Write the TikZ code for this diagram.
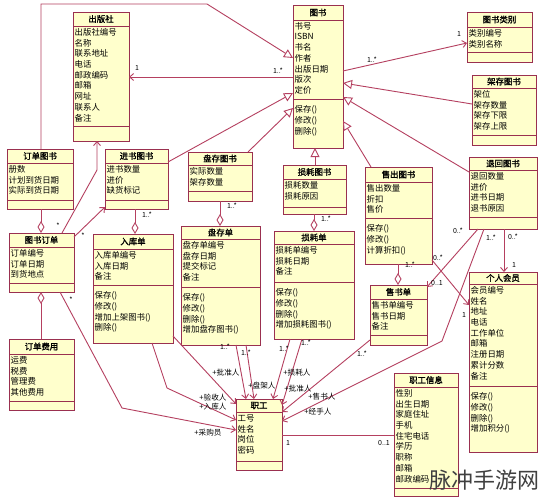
\documentclass[tikz,border=0pt]{standalone}
\usepackage{fontspec}
\setmainfont{Noto Sans CJK SC}[AutoFakeBold=1.5]
\usetikzlibrary{arrows.meta,calc}
\definecolor{boxc}{HTML}{9A3050}
\definecolor{linec}{HTML}{B54060}
\definecolor{fillc}{HTML}{FFFFCC}
\tikzset{
 classbox/.style={draw=boxc, fill=fillc, line width=0.9pt, rectangle, inner sep=0pt, outer sep=0pt},
 boxline/.style={draw=boxc, line width=0.9pt},
 titletext/.style={font=\fontsize{8.4}{10}\selectfont\bfseries, inner sep=0pt},
 attrtext/.style={font=\fontsize{8.4}{10}\selectfont, inner sep=0pt, anchor=west},
 conn/.style={draw=linec, line width=0.9pt},
 assoc/.style={conn, -{Straight Barb[length=4pt,width=7pt]}},
 gen/.style={conn, -{Triangle[length=9pt,width=9pt,fill=white]}},
 aggend/.style={conn, -{Diamond[length=12pt,width=7pt,fill=white]}},
 aggstart/.style={conn, {Diamond[length=12pt,width=7pt,fill=white]}-},
 mult/.style={font=\fontsize{7}{8}\selectfont, inner sep=0pt},
 role/.style={font=\fontsize{7.6}{9}\selectfont, inner sep=0pt},
}
\newcommand{\umlbox}[9]{%
  \pgfmathsetmacro{\myBW}{#4-#2}%
  \pgfmathsetmacro{\myBH}{#5-#3}%
  \node[classbox,minimum width=\myBW pt,minimum height=\myBH pt,anchor=north west] (#1) at (#2,#3) {};
  \draw[boxline] (#2,#6) -- (#4,#6) (#2,#7) -- (#4,#7);
  \node[titletext] (#1t) at ({(#2+#4)/2},{(#3+#6)/2}) {#8};
  \foreach \itm [count=\k from 0] in {#9} {\node[attrtext] (#1a\k) at ({#2+1.5},{#6+6.2+10.7*\k}) {\itm};}%
}
\newcommand{\umlops}[4]{%
  \foreach \itm [count=\k from 0] in {#4} {\node[attrtext] (#1o\k) at ({#2+1.5},{#3+11+10.7*\k}) {\itm};}%
}
\begin{document}
\begin{tikzpicture}[x=1pt,y=-1pt]
\fill[white] (0,0) rectangle (548,500);
\useasboundingbox (0,0) rectangle (548,500);

\umlbox{pub}{73}{12}{129}{141}{26}{126}{出版社}{出版社编号,名称,联系地址,电话,邮政编码,邮箱,网址,联系人,备注}
\umlbox{book}{293}{5}{343}{148}{20}{99}{图书}{书号,ISBN,书名,作者,出版日期,版次,定价}
\umlops{book}{293}{99}{保存(),修改(),删除()}
\umlbox{cat}{467}{12}{532}{62}{27}{52}{图书类别}{类别编号,类别名称}
\umlbox{shelf}{472}{75}{536}{145}{88}{135}{架存图书}{架位,架存数量,架存下限,架存上限}
\umlbox{ordbook}{7}{149}{73}{209}{163}{200}{订单图书}{册数,计划到货日期,实际到货日期}
\umlbox{inbook}{105}{149}{168}{209}{163}{200}{进书图书}{进书数量,进价,缺货标记}
\umlbox{invbook}{188}{152}{252}{201}{165}{191}{盘存图书}{实际数量,架存数量}
\umlbox{lossbook}{283}{165}{346}{214}{179}{207}{损耗图书}{损耗数量,损耗原因}
\umlbox{soldbook}{365}{167}{432}{264}{182}{218}{售出图书}{售出数量,折扣,售价}
\umlops{soldbook}{365}{218}{保存(),修改(),计算折扣()}
\umlbox{retbook}{469}{157}{537}{229}{170}{217}{退回图书}{退回数量,进价,进书日期,退书原因}
\umlbox{order}{9}{233}{74}{292}{247}{283}{图书订单}{订单编号,订单日期,到货地点}
\umlbox{instock}{93}{234}{173}{343}{249}{285}{入库单}{入库单编号,入库日期,备注}
\umlops{instock}{93}{285}{保存(),修改(),增加上架图书(),删除()}
\umlbox{invsheet}{181}{226}{260}{345}{239}{287}{盘存单}{盘存单编号,盘存日期,提交标记,备注}
\umlops{invsheet}{181}{287}{保存(),修改(),删除(),增加盘存图书()}
\umlbox{losssheet}{274}{231}{354}{339}{244}{282}{损耗单}{损耗单编号,损耗日期,备注}
\umlops{losssheet}{274}{282}{保存(),修改(),删除(),增加损耗图书()}
\umlbox{salesheet}{370}{285}{427}{345}{299}{335}{售书单}{售书单编号,售书日期,备注}
\umlbox{member}{469}{272}{537}{452}{284}{386}{个人会员}{会员编号,姓名,地址,电话,工作单位,邮箱,注册日期,累计分数,备注}
\umlops{member}{469}{386}{保存(),修改(),删除(),增加积分()}
\umlbox{fee}{9}{339}{74}{410}{354}{401}{订单费用}{运费,税费,管理费,其他费用}
\umlbox{staff}{236}{399}{282}{470}{412}{461}{职工}{工号,姓名,岗位,密码}
\umlbox{staffinfo}{394}{373}{458}{496}{387}{488}{职工信息}{性别,出生日期,家庭住址,手机,住宅电话,学历,职称,邮箱,邮政编码}

% generalizations
\draw[gen] ($(ordbook.north west)+(34,0)$) -- (41,4) -- (207,4) -- ($(book.north west)+(0,53)$);
\draw[gen] ($(shelf.north west)+(0,29)$) -- ($(book.north west)+(50,78)$);
\draw[gen] ($(retbook.north west)+(0,15)$) -- ($(book.north west)+(50,92)$);
\draw[gen] ($(soldbook.north west)+(6,0)$) -- ($(book.north west)+(50,116)$);
\draw[gen] ($(lossbook.north west)+(32,0)$) -- ($(book.north west)+(22,143)$);
\draw[gen] ($(invbook.north west)+(60,0)$) -- ($(book.north west)+(0,103)$);
\draw[gen] ($(inbook.north west)+(63,13)$) -- ($(book.north west)+(0,88)$);

% associations
\draw[assoc] ($(book.north west)+(0,72)$) -- ($(pub.north west)+(56,65)$);
\draw[assoc] ($(book.north west)+(50,66)$) -- ($(cat.north west)+(0,31)$);
\draw[assoc] ($(order.north west)+(53,0)$) -- (97,170) -- ($(pub.north west)+(24,129)$);
\draw[assoc] ($(order.north west)+(65,4)$) -- ($(inbook.north west)+(0,58)$);
\draw[assoc] ($(order.north west)+(51,59)$) -- (122,408) -- ($(staff.north west)+(0,31)$);
\draw[assoc] ($(instock.north west)+(59,109)$) -- (167,388) -- ($(staff.north west)+(0,21)$);
\draw[assoc] ($(instock.north west)+(80,102)$) -- ($(staff.north west)+(0,5)$);
\draw[assoc] ($(invsheet.north west)+(55,119)$) -- ($(staff.north west)+(10,0)$);
\draw[assoc] ($(invsheet.north west)+(65,119)$) -- ($(staff.north west)+(18,0)$);
\draw[assoc] ($(losssheet.north west)+(16,108)$) -- ($(staff.north west)+(37,0)$);
\draw[assoc] ($(losssheet.north west)+(28,108)$) -- ($(staff.north west)+(46,6)$);
\draw[assoc] ($(salesheet.north west)+(0,55)$) -- ($(staff.north west)+(46,13)$);
\draw[assoc] ($(retbook.north west)+(15,72)$) -- (442,341) -- ($(staff.north west)+(46,22)$);
\draw[assoc] ($(soldbook.north west)+(67,93)$) -- ($(member.north west)+(0,33)$);
\draw[assoc] ($(retbook.north west)+(9,72)$) -- ($(salesheet.north west)+(57,2)$);
\draw[assoc] ($(retbook.north west)+(35,72)$) -- ($(member.north west)+(35,0)$);
\draw[conn] ($(staff.north west)+(46,36)$) -- ($(staffinfo.north west)+(0,62)$);

% aggregations
\draw[aggend] ($(ordbook.north west)+(34,60)$) -- ($(order.north west)+(32,0)$);
\draw[aggend] ($(inbook.north west)+(30,60)$) -- ($(instock.north west)+(42,0)$);
\draw[aggend] ($(invbook.north west)+(32,49)$) -- ($(invsheet.north west)+(39,0)$);
\draw[aggend] ($(lossbook.north west)+(31,49)$) -- ($(losssheet.north west)+(40,0)$);
\draw[aggend] ($(soldbook.north west)+(33,97)$) -- ($(salesheet.north west)+(28,0)$);
\draw[aggstart] ($(order.north west)+(32,59)$) -- ($(fee.north west)+(32,0)$);

% multiplicities
\node[mult] (m1) at (137,68) {1};
\node[mult] (m2) at (278,71) {1..*};
\node[mult] (m3) at (372,60) {1..*};
\node[mult] (m4) at (459,34) {1};
\node[mult] (m5) at (58,226) {*};
\node[mult] (m6) at (83,236) {*};
\node[mult] (m7) at (147,215) {1..*};
\node[mult] (m8) at (232,206) {1..*};
\node[mult] (m9) at (326,219) {1..*};
\node[mult] (m10) at (410,265) {1..*};
\node[mult] (m11) at (71,300) {*};
\node[mult] (m12) at (438,258) {0..*};
\node[mult] (m13) at (464,315) {1};
\node[mult] (m14) at (458,231) {0..*};
\node[mult] (m15) at (437,283) {0..1};
\node[mult] (m16) at (491,238) {1..*};
\node[mult] (m17) at (513,237) {0..*};
\node[mult] (m18) at (514,265) {1};
\node[mult] (m19) at (225,347) {1..*};
\node[mult] (m20) at (246,353) {1..*};
\node[mult] (m21) at (284,349) {1..*};
\node[mult] (m22) at (306,343) {1..*};
\node[mult] (m23) at (362,354) {1..*};
\node[mult] (m24) at (288,443) {1};
\node[mult] (m25) at (384,443) {0..1};

% roles
\node[role] (r1) at (213,398) {+验收人};
\node[role] (r2) at (213,407) {+入库人};
\node[role] (r3) at (208,433) {+采购员};
\node[role] (r4) at (226,373) {+批准人};
\node[role] (r5) at (262,386) {+盘架人};
\node[role] (r6) at (297,373) {+损耗人};
\node[role] (r7) at (298,389) {+批准人};
\node[role] (r8) at (322,397) {+售书人};
\node[role] (r9) at (318,412) {+经手人};

% watermark
\node[font=\fontsize{22}{24}\selectfont, text=black!75, inner sep=0pt] (wm) at (484,480) {脉冲手游网};
\end{tikzpicture}
\end{document}
